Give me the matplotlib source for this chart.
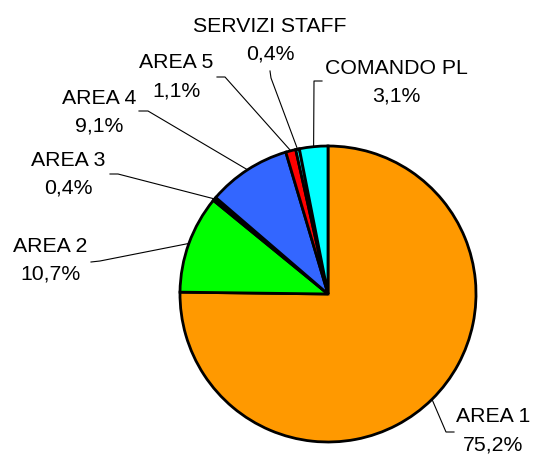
import matplotlib.pyplot as plt
import numpy as np

# data
labels = ["AREA 1", "AREA 2", "AREA 3", "AREA 4", "AREA 5", "SERVIZI STAFF", "COMANDO PL"]
values = [75.2, 10.7, 0.4, 9.1, 1.1, 0.4, 3.1]
colors = ["#FF9900", "#00FF00", "#000000", "#3366FF", "#FF0000", "#00FFFF", "#00FFFF"]

# label layout in pixels: text centre, leader start, leader elbow
text_pos = [(493, 431), (50, 260), (68, 174), (99, 112), (176, 77), (270, 40), (396, 82)]
leader_start = [(454, 432), (91, 262), (110, 174), (139, 111), (217, 77), (270, 71), (322, 81)]
leader_elbow = [(446, 432), (100, 261), (118, 174), (148, 111), (225, 77), (271, 78), (314, 81)]

W, H = 534, 455
CX, CY, R = 328, 294, 148


# pixel (y down) -> data (y up)
def px(p):
    return (p[0], H - p[1])


fig = plt.figure(figsize=(5.34, 4.55), dpi=100)
ax = fig.add_axes([0, 0, 1, 1])
plt.rcParams['font.family'] = ['Liberation Sans', 'DejaVu Sans']

ax.pie(values, colors=colors, startangle=90, counterclock=False,
       center=px((CX, CY)), radius=R,
       wedgeprops=dict(edgecolor="black", linewidth=2.0))

# labels and leader lines
cum = 0
for i, lab in enumerate(labels):
    mid = cum + values[i] / 2
    cum += values[i]
    theta = np.deg2rad(90 - 360 * mid / 100)
    ex = CX + R * np.cos(theta)
    ey = CY - R * np.sin(theta)
    pts = [px(leader_start[i]), px(leader_elbow[i]), px((ex, ey))]
    ax.plot([p[0] for p in pts], [p[1] for p in pts], color="black", lw=0.8)
    pct = f"{values[i]:.1f}%".replace(".", ",")
    tx, ty = px(text_pos[i])
    ax.text(tx, ty, f"{lab}\n{pct}", ha="center", va="center",
            fontsize=15.3, linespacing=1.6, family=['Liberation Sans', 'DejaVu Sans'])

ax.set_xlim(0, W)
ax.set_ylim(0, H)
ax.set_aspect("equal")
ax.axis("off")

fig.savefig("out.png", dpi=100)
